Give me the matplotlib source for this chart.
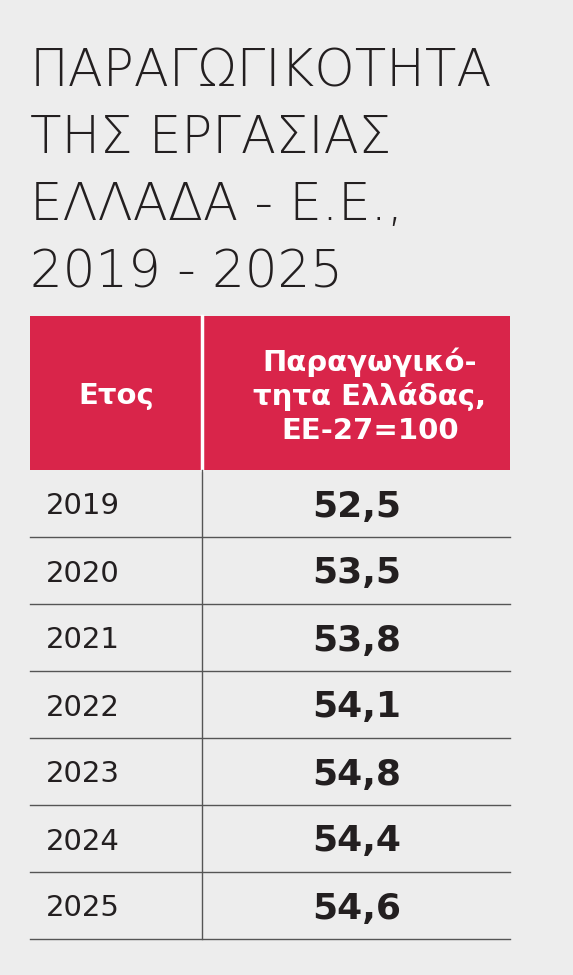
import matplotlib
matplotlib.use("Agg")
import matplotlib.pyplot as plt
from matplotlib.patches import Rectangle

# Data
title_lines = ["ΠΑΡΑΓΩΓΙΚΟΤΗΤΑ", "ΤΗΣ ΕΡΓΑΣΙΑΣ", "ΕΛΛΑΔΑ - Ε.Ε.,", "2019 - 2025"]
col_headers = ["Ετος", "Παραγωγικό-\nτητα Ελλάδας,\nΕΕ-27=100"]
years = ["2019", "2020", "2021", "2022", "2023", "2024", "2025"]
values = ["52,5", "53,5", "53,8", "54,1", "54,8", "54,4", "54,6"]

bg = "#ededed"
red = "#d9254a"
ink = "#231f20"

fig = plt.figure(figsize=(5.73, 9.75), dpi=100, facecolor=bg)
ax = fig.add_axes([0, 0, 1, 1])
ax.set_xlim(0, 573)
ax.set_ylim(975, 0)
ax.axis("off")

# Title
for i, line in enumerate(title_lines):
    ax.text(30, 72 + i * 67, line, fontsize=37, fontweight="light",
            family="DejaVu Sans", color=ink, va="center", ha="left")

# Header
left, mid, right = 30, 202, 510
head_top, head_bot = 316, 470
ax.add_patch(Rectangle((left, head_top), right - left, head_bot - head_top,
                       facecolor=red, edgecolor="none"))
ax.plot([mid, mid], [head_top, head_bot], color="white", lw=2.5)
ax.text((left + mid) / 2, (head_top + head_bot) / 2 + 3, col_headers[0],
        color="white", fontsize=21, fontweight="bold", ha="center", va="center")
ax.text((mid + right) / 2 + 14, (head_top + head_bot) / 2 + 3, col_headers[1],
        color="white", fontsize=21, fontweight="bold", ha="center", va="center",
        linespacing=1.25)

# Rows
row_h = 67
for i, (y, v) in enumerate(zip(years, values)):
    top = head_bot + i * row_h
    cy = top + row_h / 2 + 3
    ax.text(46, cy, y, fontsize=21, color=ink, ha="left", va="center")
    ax.text(357, cy, v, fontsize=26, fontweight="bold", color=ink,
            ha="center", va="center")
    ax.plot([left, right], [top + row_h, top + row_h], color="#555555", lw=1)
ax.plot([mid, mid], [head_bot, head_bot + row_h * len(years)], color="#555555", lw=1)

fig.savefig("out.png", dpi=100, facecolor=bg)
